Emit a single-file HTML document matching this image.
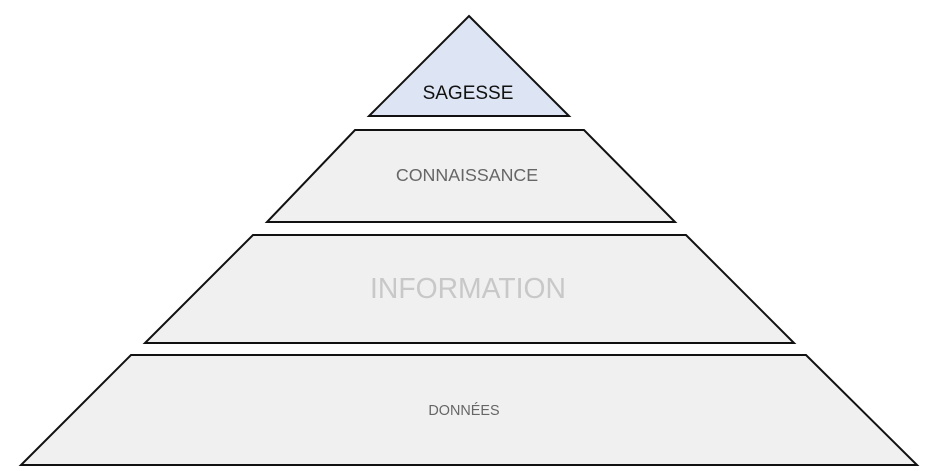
<!DOCTYPE html>
<html><head><meta charset="utf-8"><style>html,body{margin:0;padding:0;background:#fff;}svg{display:block}</style></head>
<body>
<svg width="944" height="471" viewBox="0 0 944 471" xmlns="http://www.w3.org/2000/svg">
<g stroke="#111" stroke-width="2" stroke-linejoin="miter">
<polygon points="469,16 569,116 369,116" fill="#dde4f3"/>
<polygon points="355,130 584,130 675,222 267,222" fill="#f0f0f0"/>
<polygon points="253,235 686,235 794,343 145,343" fill="#f0f0f0"/>
<polygon points="131,355 806,355 917,465 21,465" fill="#f0f0f0"/>
</g>
<g font-family="Liberation Sans, sans-serif" text-anchor="middle">
<text x="468" y="99" font-size="19" fill="#111">SAGESSE</text>
<text x="467" y="181" font-size="17.8" fill="#666">CONNAISSANCE</text>
<text x="468" y="298" font-size="28.3" fill="#c8c8c8">INFORMATION</text>
<text x="464" y="415" font-size="14.4" fill="#666">DONNÉES</text>
</g>
</svg>
</body></html>
